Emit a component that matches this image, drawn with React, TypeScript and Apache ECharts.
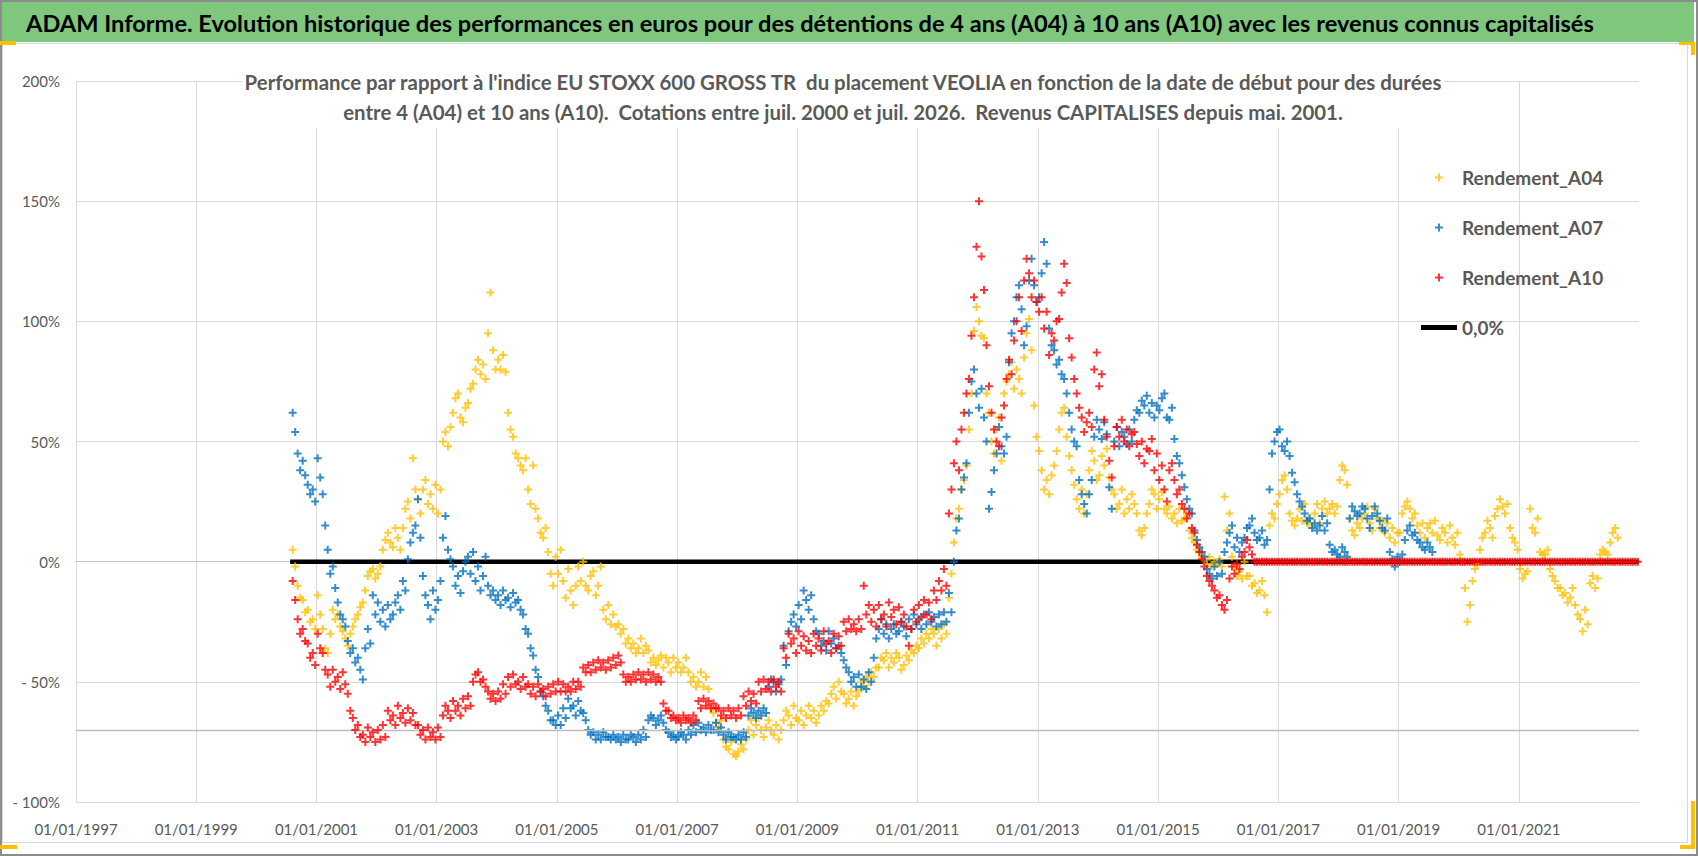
import { useEffect, useRef } from "react";
import * as echarts from "echarts";

// x positions are years counted from 01/01/1997 (axis origin)
const X_ORIGIN = 1997;
const X_SPAN_YEARS = 26;

const MAIN_TITLE =
  "ADAM Informe. Evolution historique des performances en euros pour des détentions de 4 ans (A04) à 10 ans (A10) avec les revenus connus capitalisés";
const SUBTITLE_LINES = [
  "Performance par rapport à l'indice EU STOXX 600 GROSS TR  du placement VEOLIA en fonction de la date de début pour des durées",
  "entre 4 (A04) et 10 ans (A10).  Cotations entre juil. 2000 et juil. 2026.  Revenus CAPITALISES depuis mai. 2001.",
];

const SERIES_NAMES = ["Rendement_A04", "Rendement_A07", "Rendement_A10", "0,0%"];

// all three series start in August 2000, two readings per month (in %)
const SERIES_START: [number, number] = [2000, 8];

const rendementA04 = [
  // 2000 (Aug-Dec)
  5, -2, -10, -15, -16, -21, -20, -25, -24, -28,
  // 2001
  -14, -22, -28, -36, -38, -30, -20, -24, -22, -27, -29, -32, -35, -30, -27, -24, -22, -19, -17, -12, -6, -4, -3, -7,
  // 2002
  -5, -2, 5, 9, 12, 8, 6, 14, 10, 5, 14, 22, 25, 18, 43, 30, 26, 20, 30, 34, 24, 28, 22, 32,
  // 2003
  20, 30, 50, 54, 48, 56, 62, 68, 70, 60, 58, 64, 66, 72, 74, 80, 84, 78, 82, 76, 95, 112, 88, 80,
  // 2004
  84, 80, 86, 79, 62, 55, 52, 45, 43, 40, 38, 43, 30, 24, 40, 22, 18, 12, 10, 14, 4, -5, -10, 2,
  // 2005
  -5, 5, -8, -15, -3, -12, -18, -10, -2, -8, 0, -10, -12, -6, -4, -14, -10, -2, -20, -24, -18, -26, -22, -27,
  // 2006
  -26, -30, -28, -34, -32, -36, -34, -38, -36, -32, -38, -35, -37, -42, -40, -43, -41, -39, -44, -40, -42, -46, -40, -44,
  // 2007
  -42, -46, -44, -40, -46, -50, -48, -52, -50, -46, -52, -48, -53, -61, -63, -67, -69, -66, -74, -77, -78, -75, -80, -81,
  // 2008
  -79, -76, -78, -74, -70, -66, -72, -68, -65, -70, -73, -69, -66, -70, -72, -68, -74, -70, -66, -62, -64, -68, -60, -65,
  // 2009
  -66, -62, -68, -64, -60, -65, -62, -67, -64, -60, -62, -58, -59, -55, -52, -57, -50, -54, -55, -59, -57, -54, -60, -56,
  // 2010
  -54, -50, -52, -48, -50, -46, -48, -44, -44, -40, -41, -38, -44, -40, -42, -38, -40, -45, -43, -39, -41, -37, -38, -35,
  // 2011
  -36, -32, -34, -30, -32, -28, -30, -35, -28, -32, -26, -30, -15, -5, 8, 18, 22, 30, 34, 40, 55, 70, 96, 106,
  // 2012
  100, 94, 93, 70, 62, 50, 45, 55, 60, 42, 70, 75, 78, 83, 72, 80, 76, 70, 85, 95, 101, 88, 65, 52,
  // 2013
  46, 38, 30, 34, 28, 36, 40, 46, 55, 62, 64, 52, 44, 38, 32, 26, 22, 30, 20, 28, 38, 46, 42, 34,
  // 2014
  36, 44, 40, 47, 35, 30, 28, 22, 24, 30, 20, 26, 22, 28, 24, 20, 13, 11, 14, 20, 24, 30, 28, 22,
  // 2015
  26, 29, 22, 20, 23, 18, 20, 16, 22, 17, 18, 20, 13, 10, 8, 5, 4, 2, 1, -1, 2, -2, 0, -1,
  // 2016
  1, -2, 27, 13, 20, 2, -2, -6, -4, -7, 0, -6, -6, -10, -9, -13, -12, -8, -14, -21, 15, 20, 18, 24,
  // 2017
  28, 34, 36, 30, 20, 17, 15, 18, 22, 17, 24, 16, 18, 15, 20, 24, 16, 22, 25, 20, 22, 24, 20, 23,
  // 2018
  34, 40, 38, 32, 18, 13, 11, 16, 14, 18, 20, 23, 16, 13, 22, 18, 14, 17, 12, 16, 10, 14, 8, 12,
  // 2019
  12, 20, 23, 25, 22, 18, 20, 15, 12, 16, 10, 14, 16, 12, 17, 11, 9, 14, 12, 8, 15, 10, 7, 12,
  // 2020
  3, 0, -11, -25, -18, -8, -3, -1, 5, 10, 12, 17, 14, 10, 19, 22, 26, 23, 20, 24, 14, 10, 8, 5,
  // 2021
  -3, -7, -5, -4, 22, 14, 12, 18, 4, 3, 3, 5, -3, -6, -8, -11, -11, -14, -13, -17, -15, -11, -18, -22,
  // 2022 (Jan-Aug)
  -24, -29, -20, -26, -9, -6, -11, -7, 3, 5, 4, 3, 8, 12, 14, 10,
];

const rendementA07 = [
  // 2000 (Aug-Dec)
  62, 54, 45, 38, 42, 36, 32, 28, 30, 25,
  // 2001
  43, 35, 28, 15, 5, -5, -2, -11, -17, -22, -24, -27, -33, -38, -36, -42, -40, -45, -49, -36, -28, -34, -14, -22,
  // 2002
  -17, -25, -20, -27, -18, -24, -22, -17, -14, -20, -8, -12, 1, 8, 12, 15, 26, 10, -6, -14, -18, -24, -12, -20,
  // 2003
  -16, -8, 10, 19, 5, 1, -2, -10, -6, -13, -4, 0, 2, -5, 4, -8, -2, -12, -6, 2, -10, -14, -12, -16,
  // 2004
  -14, -18, -12, -16, -15, -19, -13, -17, -16, -20, -22, -28, -30, -36, -39, -45, -48, -54, -56, -60, -62, -66, -66, -68,
  // 2005
  -64, -68, -61, -65, -57, -61, -60, -64, -58, -62, -63, -66, -70, -72, -71, -74, -72, -74, -71, -73, -73, -74, -72, -74,
  // 2006
  -73, -75, -72, -74, -74, -72, -73, -75, -72, -74, -70, -73, -66, -64, -65, -68, -66, -64, -67, -70, -71, -73, -72, -74,
  // 2007
  -73, -71, -72, -74, -70, -72, -68, -71, -67, -70, -69, -71, -68, -70, -70, -67, -71, -69, -72, -74, -71, -73, -73, -74,
  // 2008
  -72, -74, -71, -73, -64, -61, -63, -65, -62, -64, -61, -63, -52, -49, -50, -54, -51, -49, -35, -43, -29, -25, -22, -27,
  // 2009
  -18, -24, -12, -16, -20, -14, -24, -29, -30, -35, -33, -37, -29, -34, -32, -36, -35, -38, -41, -44, -46, -50, -48, -52,
  // 2010
  -47, -52, -49, -53, -46, -50, -40, -32, -28, -24, -30, -26, -32, -28, -26, -30, -29, -25, -27, -31, -24, -28, -22, -26,
  // 2011
  -24, -28, -22, -26, -21, -25, -23, -27, -22, -26, -21, -25, -13, -21, 0, 13, 18, 30, 35, 41, 62, 75, 80, 70,
  // 2012
  64, 72, 60, 50, 22, 29, 38, 45, 56, 48, 45, 52, 83, 95, 100, 110, 115, 105, 90, 98, 117, 126, 115, 108,
  // 2013
  110, 120, 133, 124, 97, 90, 88, 82, 84, 78, 76, 70, 62, 55, 50, 48, 34, 28, 24, 20, 28, 34, 52, 59,
  // 2014
  55, 51, 58, 53, 31, 22, 50, 56, 48, 54, 52, 49, 55, 50, 59, 63, 62, 67, 65, 69, 62, 66, 60, 65,
  // 2015
  63, 68, 70, 60, 59, 64, 51, 44, 41, 36, 31, 26, 22, 20, 13, 9, 6, 4, 2, -3, -5, -7, -2, -6,
  // 2016
  0, -5, 4, 8, 12, 15, 6, 10, 4, 8, 10, 14, 15, 18, 12, 9, 10, 13, 7, 9, 30, 45, 50, 54,
  // 2017
  55, 48, 46, 50, 44, 37, 33, 28, 25, 23, 20, 17, 18, 14, 16, 13, 15, 19, 13, 16, 7, 4, 5, 3,
  // 2018
  2, 6, 4, 2, 18, 23, 21, 19, 20, 23, 22, 18, 14, 19, 23, 20, 17, 14, 13, 18, 4, 1, -2, 2,
  // 2019 (Jan-Jul)
  0, 3, 9, 13, 15, 11, 12, 9, 8, 6, 5, 8, 6, 4,
];

const rendementA10 = [
  // 2000 (Aug-Dec)
  -8, -16, -24, -30, -28, -33, -34, -40, -38, -43,
  // 2001
  -30, -36, -38, -45, -47, -52, -45, -50, -48, -53, -46, -51, -55, -62, -65, -70, -68, -73, -72, -75, -69, -73, -71, -75,
  // 2002
  -70, -74, -68, -73, -62, -66, -64, -68, -60, -65, -63, -67, -61, -66, -63, -68, -68, -72, -70, -74, -69, -73, -71, -74,
  // 2003
  -69, -73, -64, -60, -62, -65, -58, -62, -60, -64, -57, -61, -56, -60, -50, -47, -46, -50, -49, -52, -54, -57, -55, -58,
  // 2004
  -54, -57, -51, -55, -48, -52, -47, -51, -50, -53, -48, -52, -51, -55, -52, -56, -51, -54, -53, -56, -52, -55, -51, -54,
  // 2005
  -50, -54, -51, -54, -52, -54, -50, -53, -50, -52, -44, -46, -43, -46, -42, -45, -41, -44, -42, -45, -41, -44, -40, -43,
  // 2006
  -39, -42, -47, -50, -48, -50, -47, -49, -46, -49, -47, -50, -46, -49, -47, -50, -48, -50, -59, -62, -62, -65, -64, -66,
  // 2007
  -65, -67, -64, -66, -65, -67, -64, -66, -58, -61, -57, -60, -58, -61, -59, -61, -61, -64, -62, -65, -61, -64, -62, -65,
  // 2008
  -61, -64, -56, -60, -54, -58, -55, -59, -50, -54, -49, -53, -50, -54, -49, -52, -50, -54, -36, -40, -30, -34, -32, -38,
  // 2009
  -29, -35, -31, -37, -33, -38, -30, -35, -32, -37, -29, -34, -33, -38, -30, -36, -31, -35, -25, -29, -24, -28, -26, -29,
  // 2010
  -24, -28, -10, -22, -18, -25, -20, -27, -18, -24, -22, -27, -17, -23, -20, -26, -19, -25, -22, -27, -35, -28, -20, -25,
  // 2011
  -18, -23, -16, -22, -17, -24, -12, -16, -8, -12, -3, -10, 20, 30, 41, 50, 38, 55, 62, 70, 76, 94, 110, 131,
  // 2012
  150, 127, 113, 90, 73, 62, 55, 50, 48, 60, 65, 76, 84, 78, 92, 100, 110, 96, 117, 126, 120, 110, 117, 108,
  // 2013
  104, 110, 97, 104, 86, 95, 92, 100, 101, 112, 124, 116, 93, 85, 76, 70, 64, 60, 54, 58, 62, 56, 80, 87,
  // 2014
  73, 78, 59, 52, 42, 35, 48, 56, 52, 59, 50, 55, 48, 53, 54, 49, 44, 50, 41, 47, 46, 51, 38, 45,
  // 2015
  34, 40, 30, 25, 38, 41, 34, 28, 30, 24, 22, 18, 20, 14, 12, 7, 4, 1, -2, -6, -8, -10, -12, -15,
  // 2016
  -14, -18, -20, -16, -7, -2, -5, -1, -3, 2, 4, 9, 6, 3, 0, 0, 0, 0, 0, 0, 0, 0, 0, 0,
  // 2017
  0, 0, 0, 0, 0, 0, 0, 0, 0, 0, 0, 0, 0, 0, 0, 0, 0, 0, 0, 0, 0, 0, 0, 0,
  // 2018
  0, 0, 0, 0, 0, 0, 0, 0, 0, 0, 0, 0, 0, 0, 0, 0, 0, 0, 0, 0, 0, 0, 0, 0,
  // 2019
  0, 0, 0, 0, 0, 0, 0, 0, 0, 0, 0, 0, 0, 0, 0, 0, 0, 0, 0, 0, 0, 0, 0, 0,
  // 2020
  0, 0, 0, 0, 0, 0, 0, 0, 0, 0, 0, 0, 0, 0, 0, 0, 0, 0, 0, 0, 0, 0, 0, 0,
  // 2021
  0, 0, 0, 0, 0, 0, 0, 0, 0, 0, 0, 0, 0, 0, 0, 0, 0, 0, 0, 0, 0, 0, 0, 0,
  // 2022
  0, 0, 0, 0, 0, 0, 0, 0, 0, 0, 0, 0, 0, 0, 0, 0, 0, 0, 0, 0, 0, 0, 0, 0,
];

// 0,0% reference line: start / end dates
const zeroLineDates = ["2000-07-25", "2022-12-31"];
const ZERO_LEVEL = 0;
// extra horizontal reference at -70%
const LOWER_REFERENCE = -70;

const PLUS = "path://M3,0H5V3H8V5H5V8H3V5H0V3H3Z";
const LINE_ICON = "path://M0,0H36V5H0Z";

const toPoints = (start: [number, number], values: number[]) => {
  const base = start[0] - X_ORIGIN + (start[1] - 1) / 12;
  return values.map((v, i) => [base + (i + 0.5) / 24, v]);
};

const dateOffset = (d: string) => {
  const [y, m, dd] = d.split("-").map(Number);
  return (Date.UTC(y, m - 1, dd) - Date.UTC(X_ORIGIN, 0, 1)) / (365.25 * 86400000);
};

const GREY_TEXT = "#595959";
const FONT = "Lato, 'Open Sans', sans-serif";

const App = () => {
  const chartRef = useRef<HTMLDivElement>(null);

  useEffect(() => {
    if (!chartRef.current) return;
    const chart = echarts.init(chartRef.current, undefined, { renderer: "svg" });

    const scatter = (name: string, values: number[], color: string, z: number) => ({
      name,
      type: "scatter" as const,
      data: toPoints(SERIES_START, values),
      symbol: PLUS,
      symbolSize: 8,
      symbolKeepAspect: true,
      itemStyle: { color },
      emphasis: { disabled: true },
      z,
    });

    const option: echarts.EChartsOption = {
      animation: false,
      backgroundColor: "#ffffff",
      textStyle: { fontFamily: FONT },
      grid: { left: 76, top: 81, width: 1563, height: 721, containLabel: false },
      legend: {
        data: [
          { name: SERIES_NAMES[0] },
          { name: SERIES_NAMES[1] },
          { name: SERIES_NAMES[2] },
          { name: SERIES_NAMES[3], icon: LINE_ICON },
        ],
        orient: "vertical",
        left: 1416,
        top: 163,
        itemWidth: 36,
        itemHeight: 8,
        itemGap: 31,
        selectedMode: false,
        symbolKeepAspect: true,
        textStyle: {
          fontFamily: FONT,
          fontWeight: "bold",
          fontSize: 19,
          color: GREY_TEXT,
        },
      },
      xAxis: {
        type: "value",
        min: 0,
        max: X_SPAN_YEARS,
        interval: 2,
        axisLine: { show: true, lineStyle: { color: "#c4c4c4", width: 1 } },
        axisTick: { show: false },
        axisLabel: {
          margin: 19,
          fontSize: 15,
          color: GREY_TEXT,
          fontFamily: FONT,
          showMaxLabel: false,
          formatter: (v: number) => `01/01/${X_ORIGIN + v}`,
        },
        splitLine: {
          show: true,
          showMaxLine: false,
          lineStyle: { color: "#d9d9d9", width: 1 },
        },
      },
      yAxis: {
        type: "value",
        min: -100,
        max: 200,
        interval: 50,
        axisLine: { show: false },
        axisTick: { show: false },
        axisLabel: {
          margin: 16,
          fontSize: 15,
          color: GREY_TEXT,
          fontFamily: FONT,
          formatter: (v: number) => (v < 0 ? `- ${Math.abs(v)}%` : `${v}%`),
        },
        splitLine: { lineStyle: { color: "#d9d9d9", width: 1 } },
      },
      graphic: [
        {
          type: "rect",
          z: -10,
          shape: { x: 1, y: 1, width: 1696, height: 854 },
          style: { fill: "none", stroke: "#8c8c8c", lineWidth: 2 },
        },
        {
          type: "rect",
          shape: { x: 2, y: 2, width: 1692, height: 40 },
          style: { fill: "#7ec77c" },
        },
        {
          type: "rect",
          z: -5,
          shape: { x: 2.5, y: 43.5, width: 1685, height: 799 },
          style: { fill: "none", stroke: "#d9d9d9", lineWidth: 1 },
        },
        {
          type: "text",
          x: 26,
          y: 23,
          style: {
            text: MAIN_TITLE,
            font: `bold 23.6px ${FONT}`,
            fill: "#000000",
            textAlign: "left",
            textVerticalAlign: "middle",
          },
        },
        // Excel selection handles
        { type: "rect", shape: { x: 0, y: 41, width: 16, height: 4 }, style: { fill: "#ffc000" } },
        { type: "rect", shape: { x: 0, y: 845, width: 17, height: 4 }, style: { fill: "#ffc000" } },
        { type: "rect", shape: { x: 1679, y: 42, width: 16, height: 3 }, style: { fill: "#ffc000" } },
        { type: "rect", shape: { x: 1691, y: 42, width: 4, height: 13 }, style: { fill: "#ffc000" } },
        { type: "rect", shape: { x: 1680, y: 845, width: 15, height: 4 }, style: { fill: "#ffc000" } },
        { type: "rect", shape: { x: 1691, y: 801, width: 4, height: 48 }, style: { fill: "#ffc000" } },
        {
          type: "rect",
          z: 100,
          shape: { x: 242, y: 66, width: 1202, height: 62 },
          style: { fill: "#ffffff" },
        },
        ...SUBTITLE_LINES.map((line, i) => ({
          type: "text" as const,
          z: 101,
          x: 843,
          y: 82 + i * 30,
          style: {
            text: line,
            font: `bold 20.4px ${FONT}`,
            fill: GREY_TEXT,
            textAlign: "center",
            textVerticalAlign: "middle",
          },
        })),
      ],
      series: [
        {
          name: "0,0%",
          type: "line",
          data: zeroLineDates.map((d) => [dateOffset(d), ZERO_LEVEL]),
          symbol: "none",
          lineStyle: { color: "#000000", width: 4.5 },
          itemStyle: { color: "#000000" },
          emphasis: { disabled: true },
          z: 2,
          markLine: {
            silent: true,
            symbol: "none",
            label: { show: false },
            lineStyle: { color: "#bdbdbd", width: 1.3, type: "solid" },
            data: [{ yAxis: LOWER_REFERENCE }],
          },
        },
        scatter("Rendement_A04", rendementA04, "#FFC000", 3),
        scatter("Rendement_A07", rendementA07, "#0070C0", 4),
        scatter("Rendement_A10", rendementA10, "#FF0000", 5),
      ],
    };

    chart.setOption(option);
    return () => chart.dispose();
  }, []);

  return (
    <div
      ref={chartRef}
      style={{ position: "absolute", left: 0, top: 0, width: 1698, height: 856, background: "#fff" }}
    />
  );
};

export default App;
